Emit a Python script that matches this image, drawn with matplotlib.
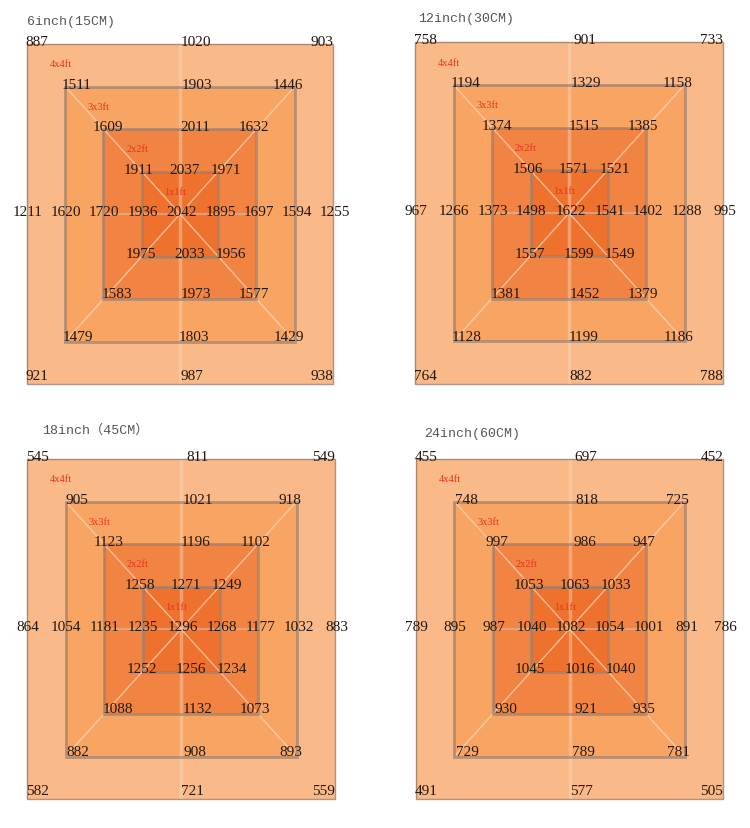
import matplotlib
matplotlib.use('Agg')
from matplotlib import pyplot as plt
from matplotlib.patches import Rectangle

titles = ['6inch(15CM)', '12inch(30CM)', '18inch（45CM）', '24inch(60CM)']
size_labels = ['4x4ft', '3x3ft', '2x2ft', '1x1ft']

# rows: outer square -> inner square
# cols: top-left, top-mid, top-right, mid-left, mid-right, bottom-left, bottom-mid, bottom-right
vals_6in = [
    [887, 1020, 903, 1211, 1255, 921, 987, 938],
    [1511, 1903, 1446, 1620, 1594, 1479, 1803, 1429],
    [1609, 2011, 1632, 1720, 1697, 1583, 1973, 1577],
    [1911, 2037, 1971, 1936, 1895, 1975, 2033, 1956],
]
center_6in = 2042

vals_12in = [
    [758, 901, 733, 967, 995, 764, 882, 788],
    [1194, 1329, 1158, 1266, 1288, 1128, 1199, 1186],
    [1374, 1515, 1385, 1373, 1402, 1381, 1452, 1379],
    [1506, 1571, 1521, 1498, 1541, 1557, 1599, 1549],
]
center_12in = 1622

vals_18in = [
    [545, 811, 549, 864, 883, 582, 721, 559],
    [905, 1021, 918, 1054, 1032, 882, 908, 893],
    [1123, 1196, 1102, 1181, 1177, 1088, 1132, 1073],
    [1258, 1271, 1249, 1235, 1268, 1252, 1256, 1234],
]
center_18in = 1296

vals_24in = [
    [455, 697, 452, 789, 786, 491, 577, 505],
    [748, 818, 725, 895, 891, 729, 789, 781],
    [997, 986, 947, 987, 1001, 930, 921, 935],
    [1053, 1063, 1033, 1040, 1054, 1045, 1016, 1040],
]
center_24in = 1082

all_vals = [vals_6in, vals_12in, vals_18in, vals_24in]
centers = [center_6in, center_12in, center_18in, center_24in]

# layout (pixels of the 750x829 picture): left, top, right, bottom of outer square
W, H = 750, 829
boxes = [(27, 45, 333, 385), (415, 43, 723, 385), (27, 460, 335, 800), (416, 460, 723, 800)]
title_pos = [(-4.0, 4.55), (-3.92, 4.55), (-3.6, 4.7), (-3.8, 4.62)]

fills = ['#FAB988', '#F8A564', '#F18443', '#EE722D']
halves = [4, 3, 2, 1]

# label offsets per level (data units)
tl_dx = [0.26, 0.31, 0.12, -0.07]
tr_dx = [0.29, 0.18, 0.07, -0.2]
bl_dx = [0.26, 0.33, 0.35, -0.02]
br_dx = [0.29, 0.15, 0.07, -0.33]
tc_x = [0.42, 0.44, 0.39, 0.13]
bc_x = [0.3, 0.37, 0.42, 0.26]
b_dy = [0.2, 0.11, 0.12, 0.06]

fig = plt.figure(figsize=(7.5, 8.29), dpi=100)
num_font = dict(family=['Liberation Serif', 'DejaVu Serif'], fontsize=11, color='#23170f',
                ha='center', va='center', zorder=10)

for i in range(4):
    l, t, r, b = boxes[i]
    ax = fig.add_axes([l / W, 1 - b / H, (r - l) / W, (b - t) / H])
    ax.set_xlim(-4, 4)
    ax.set_ylim(-4, 4)
    ax.axis('off')

    for k, h in enumerate(halves):
        ax.add_patch(Rectangle((-h, -h), 2 * h, 2 * h, facecolor=fills[k], edgecolor='none', zorder=1 + k))

    # guide lines
    ax.plot([-3, 3], [3, -3], color='#FCD6B8', lw=1.0, alpha=0.75, zorder=6)
    ax.plot([-3, 3], [-3, 3], color='#FCD6B8', lw=1.0, alpha=0.75, zorder=6)
    ax.plot([0, 0], [-4, 4], color='#FCD6B8', lw=2.5, alpha=0.45, zorder=6)
    ax.plot([-2, 2], [0, 0], color='#D8C4B8', lw=1.5, alpha=0.5, zorder=6)

    for k, h in enumerate(halves):
        if k == 0:
            ax.add_patch(Rectangle((-h, -h), 2 * h, 2 * h, facecolor='none', edgecolor='#9a7a68',
                                   lw=1.0, alpha=0.8, zorder=7, clip_on=False))
        else:
            ax.add_patch(Rectangle((-h, -h), 2 * h, 2 * h, facecolor='none', edgecolor='#9a7f70',
                                   lw=2.0, alpha=0.7, zorder=7))

    vals = all_vals[i]
    for k, h in enumerate(halves):
        v = vals[k]
        ax.text(-h + tl_dx[k], h + 0.05, str(v[0]), **num_font)
        ax.text(tc_x[k], h + 0.05, str(v[1]), **num_font)
        ax.text(h - tr_dx[k], h + 0.05, str(v[2]), **num_font)
        ax.text(-h + 0.02, 0.05, str(v[3]), **num_font)
        ax.text(h + 0.06, 0.05, str(v[4]), **num_font)
        ax.text(-h + bl_dx[k], -h + b_dy[k], str(v[5]), **num_font)
        ax.text(bc_x[k], -h + b_dy[k], str(v[6]), **num_font)
        ax.text(h - br_dx[k], -h + b_dy[k], str(v[7]), **num_font)
        ax.text(-(h - 0.88), h - 0.47, size_labels[k], family=['Liberation Serif', 'DejaVu Serif'],
                fontsize=7.5, color='#E8321E', ha='center', va='center', zorder=10)
    ax.text(0.05, 0.05, str(centers[i]), **num_font)

    ax.text(title_pos[i][0], title_pos[i][1], titles[i], family=['Liberation Mono', 'Noto Sans CJK SC'],
            fontsize=9.5, color='#555555', ha='left', va='center')

fig.savefig('out.png', dpi=100, facecolor='white')
